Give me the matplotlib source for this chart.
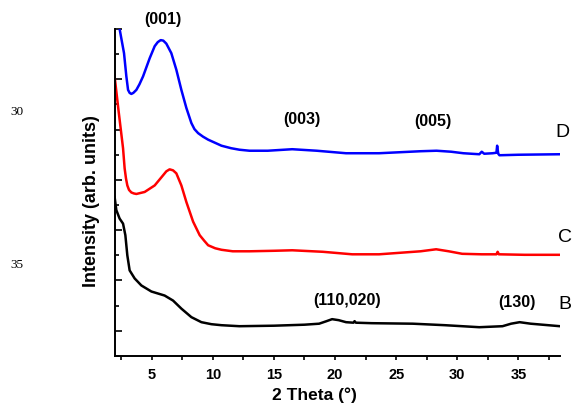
import matplotlib
matplotlib.use("Agg")
import matplotlib.pyplot as plt
from matplotlib.ticker import MultipleLocator, NullFormatter

plt.rcParams['font.family'] = ['Liberation Sans', 'DejaVu Sans']

# curve D (blue)
d_x = [2.3, 2.38, 2.74, 2.93, 3.07, 3.2, 3.34, 3.5, 3.75, 4.0, 4.30, 4.84, 5.25, 5.5, 5.74,
       5.95, 6.20, 6.61, 7.02, 7.43, 7.84, 8.25, 8.5, 8.80, 9.2, 9.62, 10.71, 11.5, 12.18,
       13.0, 14.5, 16.5, 18.5, 20.9, 23.6, 25.3, 27.0, 28.3, 29.5, 30.5, 31.8, 32.0, 32.2,
       32.9, 33.2, 33.26, 33.35, 33.45, 35.0, 38.4]
d_y = [7.2, 7.00, 6.52, 6.06, 5.79, 5.73, 5.71, 5.73, 5.79, 5.90, 6.06, 6.42, 6.66, 6.74, 6.78,
       6.77, 6.71, 6.52, 6.19, 5.79, 5.43, 5.13, 5.01, 4.93, 4.86, 4.80, 4.68, 4.63, 4.60,
       4.58, 4.58, 4.61, 4.58, 4.53, 4.53, 4.55, 4.57, 4.58, 4.56, 4.53, 4.51, 4.56, 4.52,
       4.53, 4.54, 4.68, 4.52, 4.49, 4.50, 4.51]

# curve C (red)
c_x = [1.95, 2.30, 2.66, 2.79, 2.9, 3.01, 3.15, 3.34, 3.55, 3.75, 4.43, 5.25, 5.93, 6.2,
       6.47, 6.75, 7.02, 7.43, 7.84, 8.39, 8.93, 9.3, 9.62, 10.2, 10.71, 11.63, 13.0, 15.0,
       16.5, 19.0, 21.4, 23.6, 25.3, 27.0, 28.27, 29.3, 30.4, 32.0, 33.2, 33.3, 33.4, 35.5,
       38.4]
c_y = [6.1, 5.36, 4.63, 4.23, 4.03, 3.89, 3.80, 3.75, 3.73, 3.72, 3.76, 3.89, 4.09, 4.17,
       4.21, 4.19, 4.13, 3.89, 3.56, 3.17, 2.90, 2.79, 2.70, 2.64, 2.61, 2.58, 2.58, 2.59,
       2.60, 2.57, 2.52, 2.52, 2.55, 2.58, 2.62, 2.58, 2.53, 2.52, 2.52, 2.57, 2.52, 2.51,
       2.51]

# curve B (black)
b_x = [1.97, 2.11, 2.38, 2.66, 2.85, 3.01, 3.20, 3.61, 4.16, 4.98, 6.06, 6.75, 7.43, 8.25,
       9.07, 9.89, 10.71, 12.18, 15.0, 17.5, 18.7, 19.3, 19.76, 20.3, 20.9, 21.5, 21.6,
       21.7, 23.0, 26.36, 29.0, 31.8, 33.7, 34.4, 35.1, 36.0, 38.4]
b_y = [3.66, 3.40, 3.23, 3.13, 2.90, 2.50, 2.20, 2.04, 1.90, 1.78, 1.70, 1.60, 1.44, 1.27,
       1.17, 1.13, 1.11, 1.09, 1.10, 1.12, 1.14, 1.19, 1.23, 1.21, 1.17, 1.16, 1.19,
       1.16, 1.15, 1.14, 1.11, 1.07, 1.09, 1.14, 1.17, 1.14, 1.09]

peak_labels = ['(001)', '(003)', '(005)', '(110,020)', '(130)']
peak_x = [5.9, 17.3, 28.0, 21.0, 34.9]
peak_y = [7.21, 5.22, 5.18, 1.62, 1.58]

curve_names = ['D', 'C', 'B']
name_x = [38.6, 38.85, 38.77]
name_y = [4.96, 2.87, 1.54]

fig = plt.figure(figsize=(5.72, 4.06), dpi=100)
ax = fig.add_axes([0.201, 0.121, 0.778, 0.805])

ax.plot(d_x, d_y, color='#0000ff', lw=1.8)
ax.plot(c_x, c_y, color='#ff0000', lw=1.8)
ax.plot(b_x, b_y, color='black', lw=1.8)

ax.set_xlim(2, 38.4)
ax.set_ylim(0.5, 7.0)

ax.xaxis.set_major_locator(MultipleLocator(5))
ax.xaxis.set_minor_locator(MultipleLocator(2.5))
ax.yaxis.set_major_locator(MultipleLocator(1))
ax.yaxis.set_minor_locator(MultipleLocator(0.5))
ax.yaxis.set_major_formatter(NullFormatter())

ax.tick_params(axis='x', which='both', direction='out', length=3, width=1.2, pad=5,
               labelsize=10.5)
ax.tick_params(axis='y', which='major', direction='in', length=5, width=1.2)
ax.tick_params(axis='y', which='minor', direction='in', length=3, width=1.2)
for lab in ax.get_xticklabels():
    lab.set_fontweight('bold')

for s in ['top', 'right']:
    ax.spines[s].set_visible(False)
for s in ['left', 'bottom']:
    ax.spines[s].set_linewidth(1.4)

ax.set_xlabel('2 Theta (°)', fontsize=12.5, fontweight='bold')
ax.set_ylabel('Intensity (arb. units)', fontsize=13, fontweight='bold')
ax.xaxis.set_label_coords(0.449, -0.118)
ax.xaxis.label.set_va('center')
ax.yaxis.set_label_coords(-0.052, 0.477)
ax.yaxis.label.set_va('center')

for t, x, y in zip(peak_labels, peak_x, peak_y):
    ax.text(x, y, t, ha='center', va='center', fontsize=11.5, fontweight='bold')
for t, x, y in zip(curve_names, name_x, name_y):
    ax.text(x, y, t, ha='center', va='center', fontsize=14)

fig.text(16.5 / 572, 1 - 111.7 / 406, '30', family='Liberation Serif', fontsize=9.5,
         ha='center', va='center')
fig.text(16.5 / 572, 1 - 265 / 406, '35', family='Liberation Serif', fontsize=9.5,
         ha='center', va='center')

fig.savefig('out.png', dpi=100)
